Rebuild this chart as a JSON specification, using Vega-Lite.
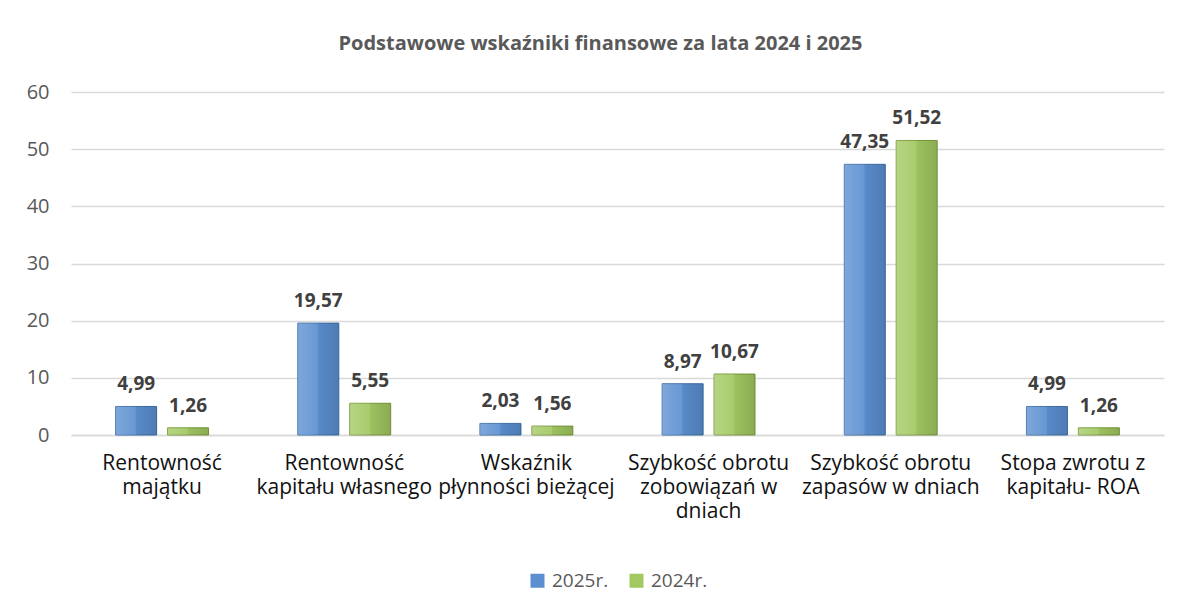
{
  "$schema": "https://vega.github.io/schema/vega-lite/v6.json",
  "width": 1093,
  "height": 343,
  "autosize": {"type": "none"},
  "padding": {"left": 71, "top": 92, "right": 25, "bottom": 172},
  "background": "white",
  "title": {
    "text": "Podstawowe wskaźniki finansowe za lata 2024 i 2025",
    "font": "Open Sans",
    "fontSize": 20,
    "fontWeight": "bold",
    "color": "#595959",
    "anchor": "middle",
    "dx": -17,
    "offset": 28
  },
  "data": {
    "values": [
      {"kategoria": "Rentowność|majątku", "rok": "2025r.", "wartosc": 4.99},
      {"kategoria": "Rentowność|majątku", "rok": "2024r.", "wartosc": 1.26},
      {"kategoria": "Rentowność|kapitału własnego", "rok": "2025r.", "wartosc": 19.57},
      {"kategoria": "Rentowność|kapitału własnego", "rok": "2024r.", "wartosc": 5.55},
      {"kategoria": "Wskaźnik|płynności bieżącej", "rok": "2025r.", "wartosc": 2.03},
      {"kategoria": "Wskaźnik|płynności bieżącej", "rok": "2024r.", "wartosc": 1.56},
      {"kategoria": "Szybkość obrotu|zobowiązań w|dniach", "rok": "2025r.", "wartosc": 8.97},
      {"kategoria": "Szybkość obrotu|zobowiązań w|dniach", "rok": "2024r.", "wartosc": 10.67},
      {"kategoria": "Szybkość obrotu|zapasów w dniach", "rok": "2025r.", "wartosc": 47.35},
      {"kategoria": "Szybkość obrotu|zapasów w dniach", "rok": "2024r.", "wartosc": 51.52},
      {"kategoria": "Stopa zwrotu z|kapitału- ROA", "rok": "2025r.", "wartosc": 4.99},
      {"kategoria": "Stopa zwrotu z|kapitału- ROA", "rok": "2024r.", "wartosc": 1.26}
    ]
  },
  "encoding": {
    "x": {
      "field": "kategoria",
      "type": "nominal",
      "sort": null,
      "scale": {"paddingInner": 0.49, "paddingOuter": 0.245},
      "axis": {
        "title": null,
        "labelAngle": 0,
        "labelExpr": "split(datum.label, '|')",
        "labelFont": "Open Sans",
        "labelFontSize": 21,
        "labelLineHeight": 24,
        "labelColor": "#111111",
        "labelPadding": 17,
        "labelBaseline": "top",
        "ticks": false,
        "domainColor": "#d9d9d9",
        "domainWidth": 1.5,
        "labelLimit": 300
      }
    },
    "xOffset": {
      "field": "rok",
      "type": "nominal",
      "sort": ["2025r.", "2024r."],
      "scale": {"paddingInner": 0.21, "paddingOuter": 0}
    },
    "y": {
      "field": "wartosc",
      "type": "quantitative",
      "scale": {"domain": [0, 60]},
      "axis": {
        "title": null,
        "values": [0, 10, 20, 30, 40, 50, 60],
        "domain": false,
        "ticks": false,
        "labelFont": "Open Sans",
        "labelFontSize": 20,
        "labelColor": "#595959",
        "labelPadding": 22,
        "gridColor": "#d9d9d9",
        "gridWidth": 1.5
      }
    }
  },
  "layer": [
    {
      "mark": {"type": "bar", "strokeWidth": 1},
      "encoding": {
        "color": {
          "field": "rok",
          "type": "nominal",
          "sort": ["2025r.", "2024r."],
          "scale": {"domain": ["2025r.", "2024r."], "range": ["#5b8fd0", "#a2c861"]},
          "legend": {
            "title": null,
            "orient": "bottom",
            "direction": "horizontal",
            "symbolType": "square",
            "symbolSize": 196,
            "symbolStrokeWidth": 0,
            "labelFont": "Open Sans",
            "labelFontSize": 19,
            "labelColor": "#595959",
            "columnPadding": 18,
            "labelOffset": 5,
            "offset": 50
          }
        },
        "stroke": {
          "field": "rok",
          "type": "nominal",
          "scale": {"domain": ["2025r.", "2024r."], "range": ["#3f6fa8", "#7a9a3e"]},
          "legend": null
        }
      }
    },
    {
      "mark": {
        "type": "bar",
        "fill": {
          "gradient": "linear",
          "x1": 0, "y1": 0, "x2": 1, "y2": 0,
          "stops": [
            {"offset": 0, "color": "rgba(255,255,255,0.22)"},
            {"offset": 0.48, "color": "rgba(255,255,255,0.08)"},
            {"offset": 0.52, "color": "rgba(0,0,0,0.04)"},
            {"offset": 1, "color": "rgba(0,0,0,0.14)"}
          ]
        }
      }
    },
    {
      "mark": {
        "type": "text",
        "baseline": "bottom",
        "dy": -12,
        "font": "Open Sans",
        "fontSize": 19,
        "fontWeight": "bold",
        "color": "#404040"
      },
      "encoding": {
        "text": {"field": "wartosc", "type": "quantitative", "format": ".2f"}
      }
    }
  ],
  "config": {
    "view": {"stroke": null},
    "locale": {
      "number": {"decimal": ",", "thousands": " ", "grouping": [3], "currency": ["", " zł"]}
    },
    "legend": {"layout": {"bottom": {"anchor": "middle", "offset": 50}}}
  }
}
